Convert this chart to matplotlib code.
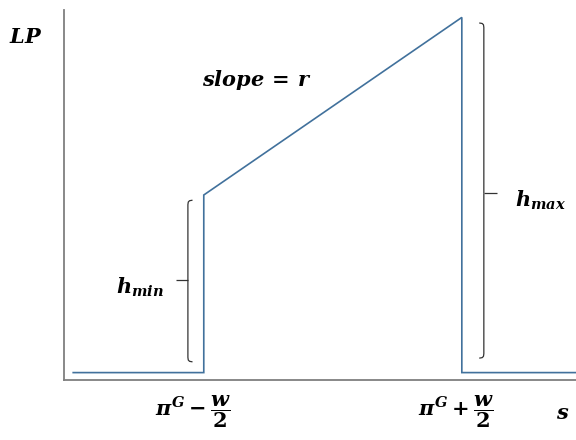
import matplotlib
matplotlib.use("Agg")
import matplotlib.pyplot as plt

plt.rcParams['mathtext.fontset'] = 'custom'
plt.rcParams['mathtext.it'] = 'DejaVu Serif:italic:bold'
plt.rcParams['mathtext.rm'] = 'DejaVu Serif:bold'
plt.rcParams['mathtext.bf'] = 'DejaVu Serif:bold'

# profile of LP along s
s_pts = [0.18, 2.73, 2.73, 7.77, 7.77, 10.0]
lp_pts = [0.2, 0.2, 5.0, 9.8, 0.2, 0.2]

# braces: (x, y bottom, y top, y tip, tip x, hook direction)
brace_min = (2.42, 0.49, 4.86, 2.70, 2.19, 1)
brace_max = (8.20, 0.59, 9.65, 5.05, 8.46, -1)

labels = [
    ("$LP$", -0.74, 9.27),
    ("$slope\\,=\\,r$", 3.77, 8.11),
    ("$h_{min}$", 1.48, 2.51),
    ("$h_{max}$", 9.30, 4.86),
    ("$\\pi^G-\\dfrac{w}{2}$", 2.53, -0.85),
    ("$\\pi^G+\\dfrac{w}{2}$", 7.66, -0.85),
    ("$s$", 9.73, -0.89),
]

fig = plt.figure(figsize=(5.76, 4.4), dpi=100)
ax = fig.add_axes([64/576, 60/440, 512/576, 370/440])
ax.set_xlim(0, 10)
ax.set_ylim(0, 10)

ax.plot(s_pts, lp_pts, color="#41719c", lw=1.2, solid_joinstyle="miter")

def brace(b):
    x, y0, y1, ym, xt, d = b
    h = 0.09 * d
    kw = dict(color="#333333", lw=0.9, solid_capstyle="butt")
    ax.plot([x + h, x + h * 0.35, x + h * 0.08, x, x],
            [y1, y1 - 0.015, y1 - 0.05, y1 - 0.12, ym], **kw)
    ax.plot([x + h, x + h * 0.35, x + h * 0.08, x, x],
            [y0, y0 + 0.015, y0 + 0.05, y0 + 0.12, ym], **kw)
    ax.plot([x, xt], [ym, ym], **kw)

brace(brace_min)
brace(brace_max)

for txt, x, y in labels:
    ax.text(x, y, txt, fontsize=15, ha="center", va="center", clip_on=False)

for side in ["top", "right"]:
    ax.spines[side].set_visible(False)
for side in ["left", "bottom"]:
    ax.spines[side].set_color("#7f7f7f")
    ax.spines[side].set_linewidth(1.3)
ax.set_xticks([])
ax.set_yticks([])

plt.savefig("out.png", dpi=100)
